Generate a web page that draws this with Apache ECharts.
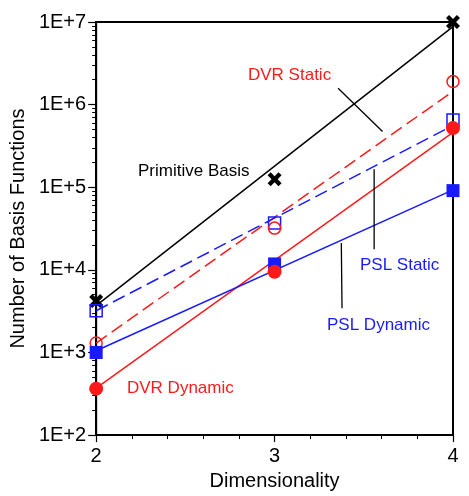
<!DOCTYPE html>
<html>
<head>
<meta charset="utf-8">
<script src="https://cdn.jsdelivr.net/npm/echarts@6/dist/echarts.min.js"></script>
<style>
  html, body { margin: 0; padding: 0; background: #fff; }
  #chart { width: 469px; height: 496px; }
</style>
</head>
<body>
<div id="chart"></div>
<script>
// Dimensionality of the problem
const dims = [2, 3, 4];

// Number of basis functions for each method
const primitiveBasis = [4200, 125000, 1.0e7];
const dvrStatic = [1300, 32000, 1.9e6];
const pslStatic = [3200, 37000, 6.5e5];
const dvrDynamic = [365, 9500, 5.2e5];
const pslDynamic = [1000, 11800, 9.1e4];

// Trend lines, evaluated at the ends of the range
const trendX = [2, 4];
const primitiveTrend = [3700, 8.8e6];
const dvrStaticTrend = [1300, 1.45e6];
const pslStaticTrend = [3200, 5.6e5];
const dvrDynamicTrend = [370, 4.6e5];
const pslDynamicTrend = [1050, 9.3e4];

// Leader lines from the labels to their curves: [x0, y0, x1, y1]
const dvrStaticLeader = [3.356, 1.58e6, 3.605, 4.73e5];
const pslStaticLeader = [3.558, 1.65e5, 3.558, 1.78e4];
const pslDynamicLeader = [3.374, 2.11e4, 3.378, 3.43e3];

// Minor ticks of the logarithmic axis
const logMinor = [];
for (let e = 2; e < 7; e++) {
  for (let m = 2; m <= 9; m++) logMinor.push(m * Math.pow(10, e));
}

const RED = '#ff1a1a';
const BLUE = '#1a1aff';
const FONT = 'Liberation Sans, Arial, sans-serif';

const pairs = (xs, ys) => xs.map((x, i) => [x, ys[i]]);
const leader = (a) => [[a[0], a[1]], [a[2], a[3]]];

// Heavy "x" marker
const CROSS = 'path://M0,2.2L2.2,0L5,2.8L7.8,0L10,2.2L7.2,5L10,7.8L7.8,10L5,7.2L2.2,10L0,7.8L2.8,5Z';

function trend(data, color, dashed) {
  return {
    type: 'line', data: pairs(trendX, data), symbol: 'none', silent: true,
    lineStyle: { color: color, width: 1.5, type: dashed ? [13, 6] : 'solid' },
    z: 3
  };
}
function marks(data, symbol, size, fill, stroke, bw) {
  return {
    type: 'scatter', data: pairs(dims, data), symbol: symbol, symbolSize: size, clip: false,
    itemStyle: { color: fill, borderColor: stroke, borderWidth: bw, opacity: 1 },
    z: 5
  };
}
function leaderLine(a) {
  return {
    type: 'line', data: leader(a), symbol: 'none', silent: true,
    lineStyle: { color: '#000', width: 1.3 }, z: 3
  };
}

const chart = echarts.init(document.getElementById('chart'));
chart.setOption({
  animation: false,
  backgroundColor: '#fff',
  textStyle: { fontFamily: FONT },
  grid: { left: 92, right: 16, top: 22, bottom: 54, show: true, borderColor: '#000', borderWidth: 2, backgroundColor: 'transparent' },
  xAxis: {
    type: 'value', min: 2, max: 4, interval: 1,
    name: 'Dimensionality', nameLocation: 'middle', nameGap: 33,
    nameTextStyle: { fontSize: 20, color: '#000', fontFamily: FONT },
    axisLine: { lineStyle: { color: '#000', width: 2 } },
    axisTick: { length: 7, lineStyle: { color: '#000', width: 1.2 } },
    minorTick: { show: true, splitNumber: 5, length: 4, lineStyle: { color: '#000', width: 1 } },
    axisLabel: { fontSize: 20, color: '#000', margin: 11, fontFamily: FONT },
    splitLine: { show: false }
  },
  yAxis: [{
    type: 'log', logBase: 10, min: 100, max: 1e7,
    name: 'Number of Basis Functions', nameLocation: 'middle', nameGap: 60,
    nameTextStyle: { fontSize: 20, color: '#000', fontFamily: FONT },
    axisLine: { show: true, lineStyle: { color: '#000', width: 2 } },
    axisTick: { show: true, length: 8, lineStyle: { color: '#000', width: 1.2 } },
    axisLabel: {
      fontSize: 20, color: '#000', margin: 10, fontFamily: FONT,
      formatter: (v) => '1E+' + Math.round(Math.log10(v))
    },
    splitLine: { show: false }
  }, {
    type: 'log', logBase: 10, min: 100, max: 1e7, position: 'left',
    axisLine: { show: false },
    axisTick: { show: true, length: 4, customValues: logMinor, lineStyle: { color: '#000', width: 1 } },
    axisLabel: { show: false },
    splitLine: { show: false }
  }],
  series: [
    trend(primitiveTrend, '#000', false),
    trend(dvrStaticTrend, RED, true),
    trend(pslStaticTrend, BLUE, true),
    trend(dvrDynamicTrend, RED, false),
    trend(pslDynamicTrend, BLUE, false),
    leaderLine(dvrStaticLeader),
    leaderLine(pslStaticLeader),
    leaderLine(pslDynamicLeader),
    marks(primitiveBasis, CROSS, 14, '#000', '#000', 0),
    marks(pslStatic, 'rect', 12, 'transparent', BLUE, 1.5),
    marks(dvrStatic, 'circle', 12, 'transparent', RED, 1.5),
    marks(pslDynamic, 'rect', 13, BLUE, BLUE, 0),
    marks(dvrDynamic, 'circle', 14, RED, RED, 0)
  ],
  graphic: [
    { type: 'text', left: 138, top: 163, style: { text: 'Primitive Basis', fill: '#000', font: '17px ' + FONT } },
    { type: 'text', left: 248, top: 67, style: { text: 'DVR Static', fill: RED, font: '17px ' + FONT } },
    { type: 'text', left: 360, top: 257, style: { text: 'PSL Static', fill: BLUE, font: '17px ' + FONT } },
    { type: 'text', left: 327, top: 317, style: { text: 'PSL Dynamic', fill: BLUE, font: '17px ' + FONT } },
    { type: 'text', left: 127, top: 380, style: { text: 'DVR Dynamic', fill: RED, font: '17px ' + FONT } }
  ]
});
</script>
</body>
</html>
